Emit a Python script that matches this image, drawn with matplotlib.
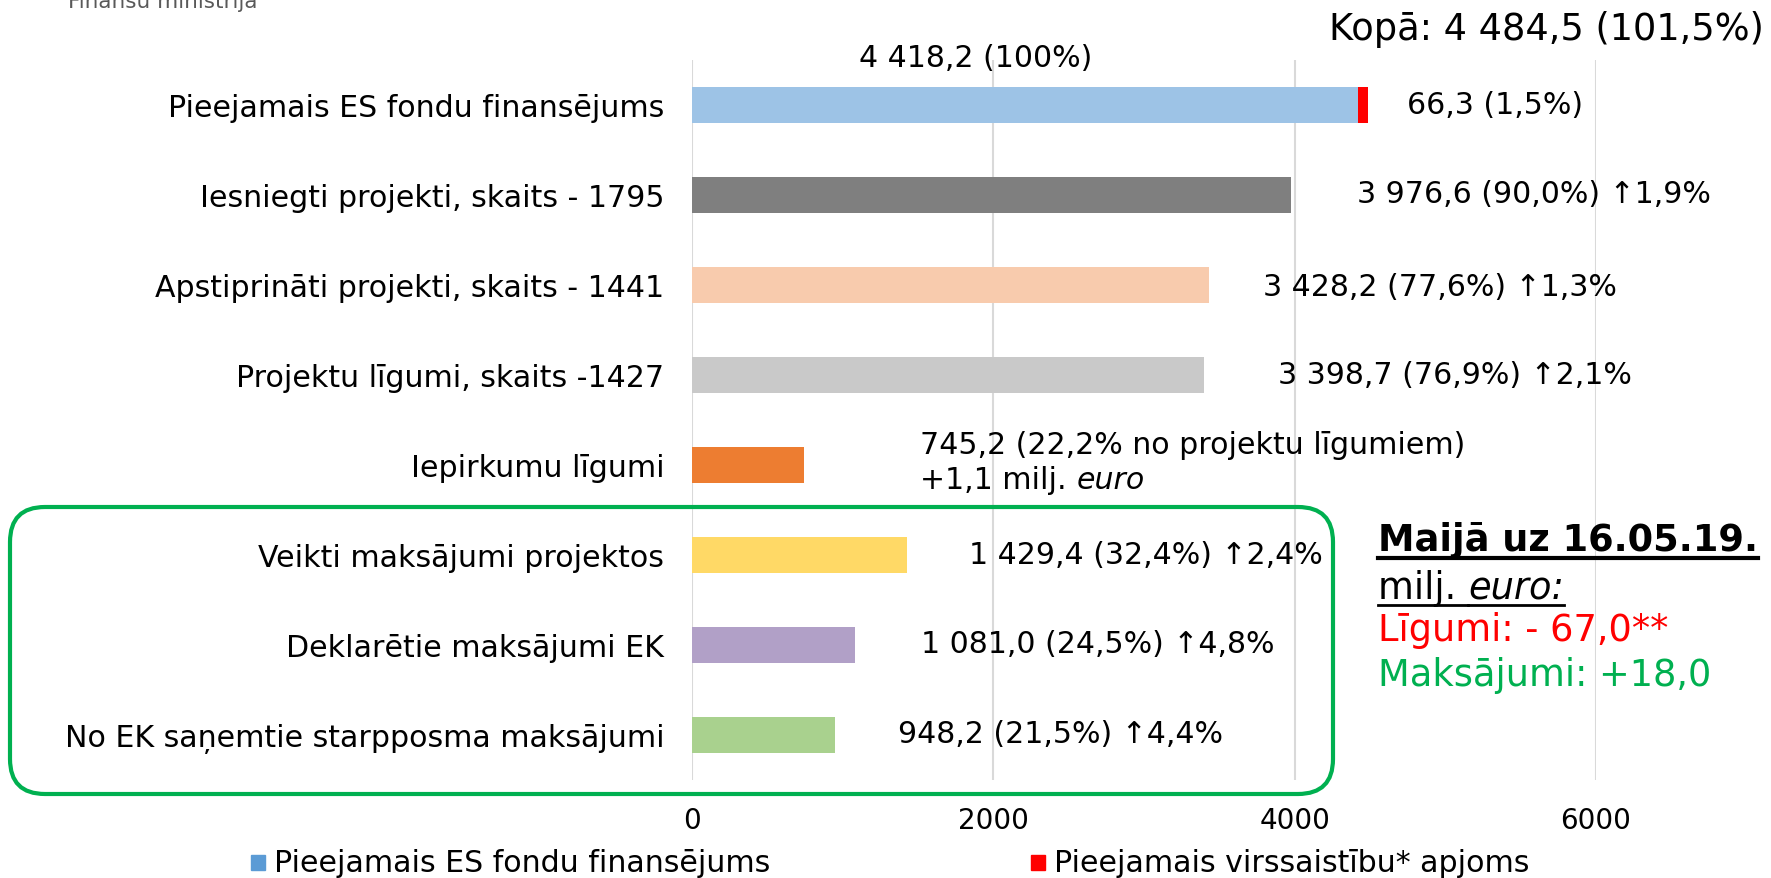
import matplotlib
matplotlib.use("Agg")
import matplotlib.pyplot as plt
from matplotlib.patches import FancyBboxPatch, Rectangle
from matplotlib.lines import Line2D

plt.rcParams['font.family'] = ['DejaVu Sans']

categories = [
    "Pieejamais ES fondu finansējums",
    "Iesniegti projekti, skaits - 1795",
    "Apstiprināti projekti, skaits - 1441",
    "Projektu līgumi, skaits -1427",
    "Iepirkumu līgumi",
    "Veikti maksājumi projektos",
    "Deklarētie maksājumi EK",
    "No EK saņemtie starpposma maksājumi",
]
values = [4418.2, 3976.6, 3428.2, 3398.7, 745.2, 1429.4, 1081.0, 948.2]
overcommit = [66.3, 0, 0, 0, 0, 0, 0, 0]
bar_colors = ["#9DC3E6", "#7F7F7F", "#F8CBAD", "#C9C9C9", "#ED7D31",
              "#FFD966", "#B1A0C7", "#A9D18E"]
labels = [
    "66,3 (1,5%)",
    "3 976,6 (90,0%) ↑1,9%",
    "3 428,2 (77,6%) ↑1,3%",
    "3 398,7 (76,9%) ↑2,1%",
    "745,2 (22,2% no projektu līgumiem)",
    "1 429,4 (32,4%) ↑2,4%",
    "1 081,0 (24,5%) ↑4,8%",
    "948,2 (21,5%) ↑4,4%",
]
top_label = "4 418,2 (100%)"
total_label = "Kopā: 4 484,5 (101,5%)"
xticks = [0, 2000, 4000, 6000]
legend_labels = ["Pieejamais ES fondu finansējums", "Pieejamais virssaistību* apjoms"]

# label placement (style): horizontal offset from bar end, in data units
label_offsets = [260, 436, 362, 489, 771, 410, 442, 418]
label_dy = [0, -0.02, 0.02, -0.01, -0.23, 0, -0.02, -0.02]

FS = 21.6
BIG = 26.5

fig = plt.figure(figsize=(17.71, 8.79), dpi=100)
ax = fig.add_axes([692/1771, 1-781/879, (1596-692)/1771, (781-61)/879])

y = list(range(len(categories)))
ax.barh(y, values, height=0.4, color=bar_colors, zorder=3)
ax.barh(y, overcommit, left=values, height=0.4, color="#FF0000", zorder=3)

ax.set_xlim(0, 6000)
ax.set_ylim(len(categories) - 0.5, -0.5)
ax.set_xticks(xticks)
ax.set_xticklabels([str(t) for t in xticks], fontsize=20)
ax.set_yticks(y)
ax.set_yticklabels(categories, fontsize=FS)
ax.tick_params(axis='both', length=0)
ax.tick_params(axis='y', pad=20)
ax.tick_params(axis='x', pad=19)
for s in ax.spines.values():
    s.set_visible(False)
ax.grid(axis='x', color="#D9D9D9", linewidth=1.5, zorder=0)
ax.set_axisbelow(True)

for i, (v, lab) in enumerate(zip(values, labels)):
    xpos = v + overcommit[i] + label_offsets[i]
    if i == 4:
        ax.text(xpos, i + label_dy[i], lab, fontsize=FS, va='center', ha='left')
        t2 = ax.text(xpos, i + 0.16, "+1,1 milj. ", fontsize=FS, va='center', ha='left')
        ax.annotate("euro", xy=(1, 0), xycoords=t2, fontsize=FS, va='bottom',
                    ha='left', style='italic')
    else:
        ax.text(xpos, i + label_dy[i], lab, fontsize=FS, va='center', ha='left')

ax.text(1884, -0.53, top_label, fontsize=FS, ha='center', va='center', clip_on=False)

fig.text(1764/1771, 1-29/879, total_label, fontsize=BIG, ha='right', va='center')

# cropped source line at top
fig.text(68/1771, 1-8/879, "Finanšu ministrija", fontsize=15.5, color="#595959",
         ha='left', va='baseline')

# green rounded box
box = FancyBboxPatch((0.10, 0.84), 13.23, 2.87,
                     boxstyle="round,pad=0,rounding_size=0.35",
                     transform=fig.dpi_scale_trans, fill=False,
                     edgecolor="#00B050", linewidth=3, zorder=5)
fig.patches.append(box)

# right text box
x0 = 1378/1771
t_head = fig.text(x0, 1-541/879, "Maijā uz 16.05.19.", fontsize=BIG, fontweight='bold',
                  ha='left', va='center')
y_m = 1-588.5/879
t_m1 = fig.text(x0, y_m, "milj. ", fontsize=BIG, ha='left', va='center')
t_m2 = fig.text(0, 0, "euro:", fontsize=BIG, style='italic', ha='left', va='center')
fig.text(x0, 1-630.5/879, "Līgumi: - 67,0**", fontsize=BIG, color="#FF0000",
         ha='left', va='center')
fig.text(x0, 1-675.5/879, "Maksājumi: +18,0", fontsize=BIG, color="#00B050",
         ha='left', va='center')

# legend
leg_y = 1-864/879
fig.patches.append(Rectangle((251/1771, leg_y - 7/879), 14/1771, 15/879,
                             transform=fig.transFigure, color="#5B9BD5"))
fig.text(274/1771, leg_y, legend_labels[0], fontsize=FS, ha='left', va='center')
fig.patches.append(Rectangle((1031/1771, leg_y - 7/879), 14/1771, 15/879,
                             transform=fig.transFigure, color="#FF0000"))
fig.text(1054/1771, leg_y, legend_labels[1], fontsize=FS, ha='left', va='center')

# position italic piece and underlines
fig.canvas.draw()
r = fig.canvas.get_renderer()
bb = t_m1.get_window_extent(r)
t_m2.set_position((bb.x1 / fig.bbox.width, y_m))
fig.canvas.draw()
for tt, lw in [(t_head, 3), (t_m1, 2), (t_m2, 2)]:
    b = tt.get_window_extent(r)
    yy = (b.y0 + 1) / fig.bbox.height
    fig.lines.append(Line2D([b.x0 / fig.bbox.width, b.x1 / fig.bbox.width], [yy, yy],
                            transform=fig.transFigure, color='black', linewidth=lw))

fig.savefig("out.png", dpi=100)
